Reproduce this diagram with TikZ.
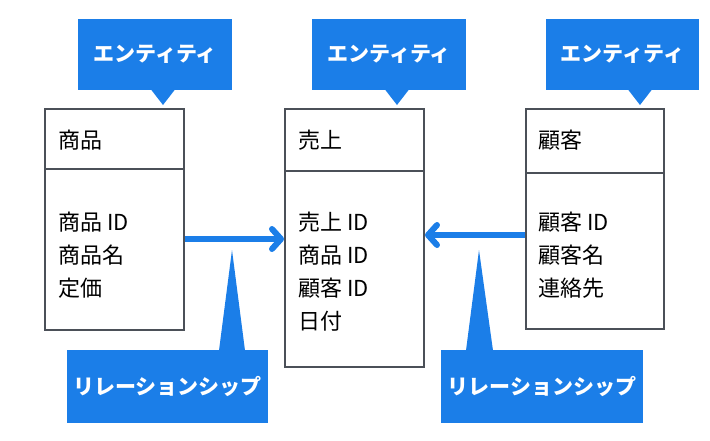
\documentclass[tikz,border=0pt]{standalone}
\usepackage{fontspec}
\setmainfont{Noto Sans CJK JP}
\usetikzlibrary{arrows.meta}
\definecolor{callblue}{RGB}{27,126,232}
\definecolor{boxgray}{RGB}{75,80,88}
\begin{document}
\begin{tikzpicture}[x=1pt,y=-1pt,
  ent/.style={draw=boxgray, line width=2pt, inner sep=0pt, fill=white},
  lbl/.style={anchor=west, inner sep=0pt, font=\fontsize{22}{26}\selectfont, text=black},
  call/.style={fill=callblue, text=white, font=\bfseries\fontsize{21}{25}\selectfont, inner sep=0pt},
  ptr/.style={fill=callblue},
  rel/.style={draw=callblue, line width=6pt, -{Straight Barb[length=9pt,width=20pt,round]}}
]
\useasboundingbox (0,0) rectangle (710,440);
% entity boxes
\node[ent, minimum width=139pt, minimum height=221pt] (shohin) at (114.5,219.5) {};
\node[ent, minimum width=139pt, minimum height=258pt] (uriage) at (354.5,238) {};
\node[ent, minimum width=138pt, minimum height=220pt] (kokyaku) at (595,219) {};
% dividers
\draw[boxgray, line width=2pt] (shohin.west |- 0,169) -- (shohin.east |- 0,169);
\draw[boxgray, line width=2pt] (uriage.west |- 0,171) -- (uriage.east |- 0,171);
\draw[boxgray, line width=2pt] (kokyaku.west |- 0,173) -- (kokyaku.east |- 0,173);
% titles
\node[lbl] (t1) at (58,140) {商品};
\node[lbl] (t2) at (298,140) {売上};
\node[lbl] (t3) at (538,140) {顧客};
% items
\node[lbl] (a1) at (58,222) {商品 ID};
\node[lbl] (a2) at (58,255) {商品名};
\node[lbl] (a3) at (58,288) {定価};
\node[lbl] (b1) at (298,222) {売上 ID};
\node[lbl] (b2) at (298,255) {商品 ID};
\node[lbl] (b3) at (298,288) {顧客 ID};
\node[lbl] (b4) at (298,321) {日付};
\node[lbl] (c1) at (538,222) {顧客 ID};
\node[lbl] (c2) at (538,255) {顧客名};
\node[lbl] (c3) at (538,288) {連絡先};
% relationship arrows
\draw[rel] (shohin.east |- 0,239) -- (uriage.west |- 0,239);
\draw[rel] (kokyaku.west |- 0,235) -- (uriage.east |- 0,235);
% top callouts
\node[call, minimum width=154pt, minimum height=71pt] (e1) at (155,54.5) {エンティティ};
\node[call, minimum width=154pt, minimum height=71pt] (e2) at (389,54.5) {エンティティ};
\node[call, minimum width=153pt, minimum height=71pt] (e3) at (622.5,54.5) {エンティティ};
\fill[ptr] (151,89.5) -- (175,89.5) -- (163,105) -- cycle;
\fill[ptr] (385,89.5) -- (409,89.5) -- (397,105) -- cycle;
\fill[ptr] (628,89.5) -- (652,89.5) -- (640,105) -- cycle;
% bottom callouts
\node[call, minimum width=201pt, minimum height=73pt] (r1) at (167.5,386.5) {リレーションシップ};
\node[call, minimum width=202pt, minimum height=73pt] (r2) at (542,386.5) {リレーションシップ};
\fill[ptr] (219,350.5) -- (245,350.5) -- (232,250) -- cycle;
\fill[ptr] (466,350.5) -- (493,350.5) -- (479,250) -- cycle;
\end{tikzpicture}
\end{document}
